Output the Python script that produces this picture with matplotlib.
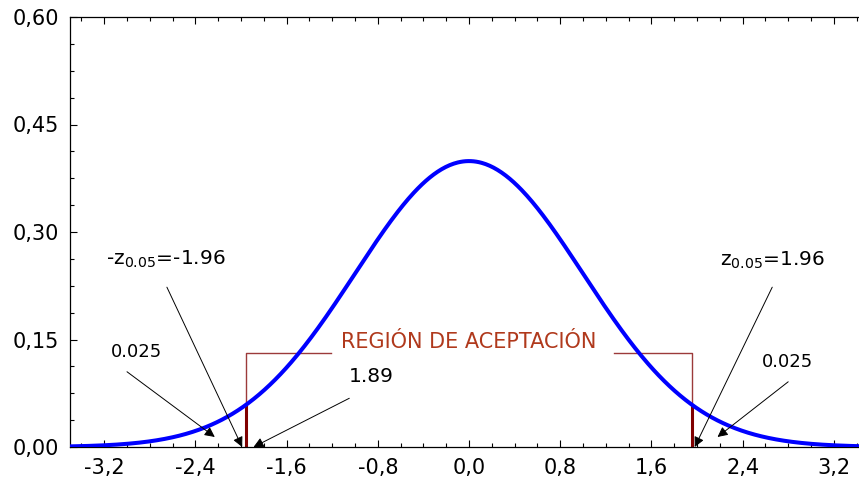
import matplotlib
matplotlib.use('Agg')
import matplotlib.pyplot as plt
import numpy as np
from matplotlib.ticker import MultipleLocator, FuncFormatter

plt.rcParams['font.family'] = ['DejaVu Sans']
plt.rcParams['mathtext.default'] = 'regular'

# standard normal curve
mu, sigma = 0.0, 1.0
z_crit = 1.96
x_range = (-3.5, 3.5)
x_ticks = [-3.2, -2.4, -1.6, -0.8, 0.0, 0.8, 1.6, 2.4, 3.2]
y_ticks = [0.00, 0.15, 0.30, 0.45, 0.60]

# acceptance region bracket
bracket_y = 0.131
bracket_left_end = -1.21
bracket_right_start = 1.27

# annotations: text, text pos, arrow tail, arrow head, font size
notes = [
    ('-z$_{0.05}$=-1.96', (-2.66, 0.262), (-2.65, 0.223), (-1.99, 0.0), 14.5),
    ('0.025', (-2.92, 0.133), (-3.00, 0.105), (-2.23, 0.014), 13),
    ('1.89', (-0.86, 0.098), (-1.05, 0.068), (-1.89, 0.0), 14.5),
    ('z$_{0.05}$=1.96', (2.66, 0.261), (2.66, 0.223), (1.98, 0.0), 14.5),
    ('0.025', (2.79, 0.119), (2.80, 0.091), (2.18, 0.014), 13),
]

x = np.linspace(x_range[0], x_range[1], 600)
y = np.exp(-0.5 * ((x - mu) / sigma) ** 2) / (sigma * np.sqrt(2 * np.pi))
pdf_crit = np.exp(-0.5 * z_crit ** 2) / np.sqrt(2 * np.pi)

fig = plt.figure(figsize=(8.59, 4.78), dpi=100)
ax = fig.add_axes([70 / 859, 31 / 478, 798 / 859, 430 / 478])

red_thin = '#9c3a3a'
red_dark = '#800000'

# bracket
ax.plot([-z_crit, -z_crit, bracket_left_end], [0, bracket_y, bracket_y], color=red_thin, lw=1)
ax.plot([bracket_right_start, z_crit, z_crit], [bracket_y, bracket_y, 0], color=red_thin, lw=1)
ax.plot([-z_crit, -z_crit], [0, pdf_crit], color=red_dark, lw=2.2)
ax.plot([z_crit, z_crit], [0, pdf_crit], color=red_dark, lw=2.2)

ax.plot(x, y, color='#0000ff', lw=2.9, zorder=3)

ax.text(0.0, 0.146, 'REGIÓN DE ACEPTACIÓN', color='#b0391c', fontsize=15,
        ha='center', va='center')

for txt, tpos, tail, head, fs in notes:
    ax.text(tpos[0], tpos[1], txt, fontsize=fs, ha='center', va='center')
    ax.annotate('', xy=head, xytext=tail,
                arrowprops=dict(arrowstyle='-|>', color='black', lw=0.7,
                                mutation_scale=15, shrinkA=0, shrinkB=0))

ax.set_xlim(*x_range)
ax.set_ylim(0, 0.60)
ax.set_xticks(x_ticks)
ax.set_yticks(y_ticks)
ax.xaxis.set_minor_locator(MultipleLocator(0.2))
ax.yaxis.set_minor_locator(MultipleLocator(0.0375))
comma = FuncFormatter(lambda v, p: ('%.1f' % v).replace('.', ','))
ax.xaxis.set_major_formatter(comma)
ax.yaxis.set_major_formatter(FuncFormatter(lambda v, p: ('%.2f' % v).replace('.', ',')))
ax.tick_params(which='both', direction='in', top=True, right=True, labelsize=15, width=0.8)
ax.tick_params(which='major', length=5, pad=8)
ax.tick_params(which='minor', length=3)
for s in ax.spines.values():
    s.set_linewidth(0.9)

fig.savefig('out.png', dpi=100)
